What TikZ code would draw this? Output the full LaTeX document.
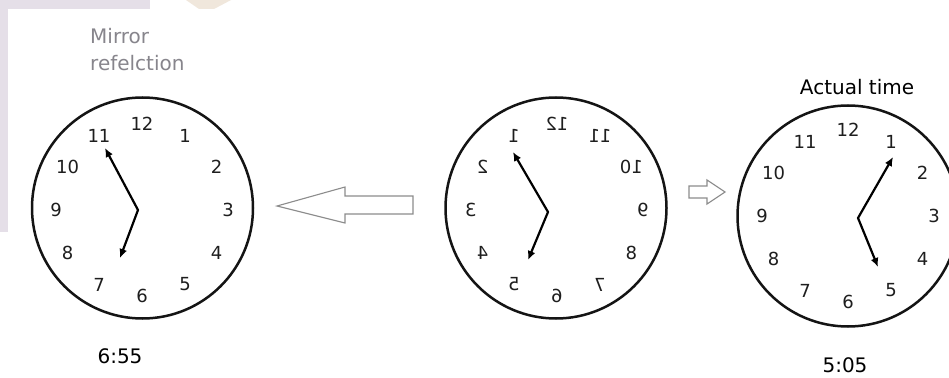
\documentclass[tikz,border=0pt]{standalone}
\usepackage{fontspec}
\setmainfont{DejaVu Sans}
\usepackage{graphicx}
\usetikzlibrary{arrows.meta}
\definecolor{rimgrey}{RGB}{20,20,20}
\definecolor{digitgrey}{RGB}{30,30,30}
\definecolor{labelgrey}{RGB}{135,133,140}
\definecolor{arrowgrey}{RGB}{140,140,140}
\definecolor{washlilac}{RGB}{229,223,232}
\definecolor{washtan}{RGB}{240,231,220}

\tikzset{
  rim/.style={circle,draw=rimgrey,line width=2.5pt,minimum size=221pt,inner sep=0pt},
  hand/.style={draw=black,line width=2.2pt,line join=miter,
    {Latex[length=9pt,width=8pt]}-{Latex[length=9pt,width=8pt]}},
  digit/.style={text=digitgrey,inner sep=0pt,font=\fontsize{18}{20}\selectfont},
  caption/.style={inner sep=0pt,font=\fontsize{20}{27}\selectfont},
  hollow/.style={draw=arrowgrey,line width=1.1pt,line join=miter},
}

\begin{document}
\begin{tikzpicture}[x=1pt,y=-1pt,>=Latex]
    \clip (0,0) rectangle (949,377);
    \fill[white] (0,0) rectangle (949,377);
    % faint wash in the corner
    \fill[washlilac] (0,0) rectangle (150,9);
    \fill[washlilac] (0,0) rectangle (8,232);
    \fill[washtan] (186,0) -- (231,0) -- (214,9) -- (199,9) -- cycle;

    % mirror reflection, 6:55
    \node[caption,text=labelgrey,align=left,anchor=north west] (mtitle) at (90,28)
      {Mirror\\refelction};
    \node[rim] (mface) at (142.5,208) {};
    \foreach \n in {1,...,12}
      \path (142,210) ++({90-30*\n}:86pt) node[digit] (m\n) {\n};
    \coordinate (mpivot) at (138,210);
    \coordinate (mlong) at (105,148);
    \coordinate (mshort) at (120,258);
    \draw[hand] (mlong) -- (mpivot) -- (mshort);
    \node[caption,anchor=base] (mtime) at (120,363) {6:55};

    % hollow arrow pointing left
    \draw[hollow] (277,206) -- (345,187) -- (345,196) -- (413,196)
      -- (413,214) -- (345,214) -- (345,223) -- cycle;

    % the clock as seen, drawn flipped
    \node[rim] (fface) at (556,208) {};
    \foreach \n in {1,...,12}
      \path (557,210) ++({90+30*\n}:86pt) node[digit] (f\n) {\reflectbox{\n}};
    \coordinate (fpivot) at (548,212);
    \coordinate (flong) at (513,152);
    \coordinate (fshort) at (528,260);
    \draw[hand] (flong) -- (fpivot) -- (fshort);

    % small hollow arrow pointing right
    \draw[hollow] (689,186) -- (707,186) -- (707,180) -- (725,192)
      -- (707,204) -- (707,198) -- (689,198) -- cycle;

    % actual time, 5:05
    \node[caption,anchor=base] (atitle) at (857,95) {Actual time};
    \node[rim] (aface) at (848,216) {};
    \foreach \n in {1,...,12}
      \path (848,216) ++({90-30*\n}:86pt) node[digit] (a\n) {\n};
    \coordinate (apivot) at (858,218);
    \coordinate (along) at (893,157);
    \coordinate (ashort) at (878,267);
    \draw[hand] (along) -- (apivot) -- (ashort);
    \node[caption,anchor=base] (atime) at (845,372) {5:05};
\end{tikzpicture}
\end{document}
